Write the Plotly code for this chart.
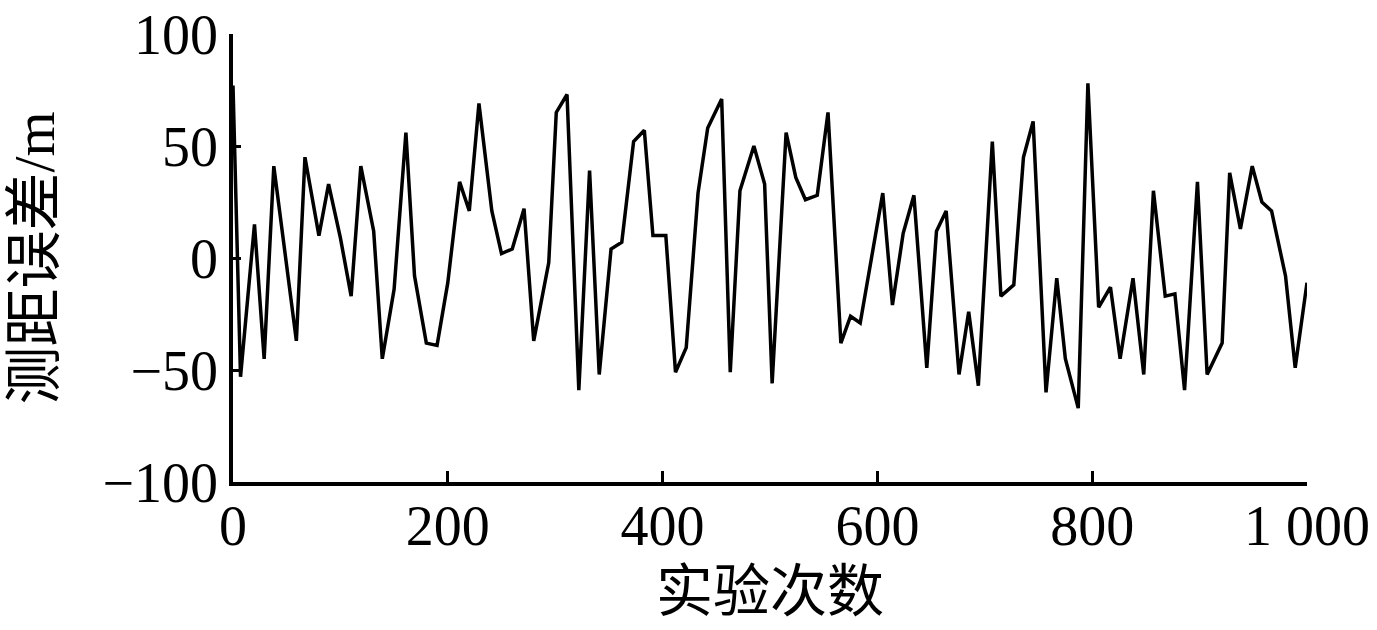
import plotly.graph_objects as go

# trial index (x) and ranging error in metres (y)
trial = [0, 7, 20, 29, 38, 59, 67, 80, 89, 100,
         110, 119, 131, 139, 150, 161, 169, 180, 190, 200,
         211, 220, 229, 241, 250, 260, 271, 280, 294, 301,
         311, 322, 332, 341, 352, 362, 373, 383, 391, 403,
         412, 422, 433, 442, 455, 463, 472, 485, 495, 502,
         515, 524, 533, 544, 554, 566, 575, 584, 605, 614,
         624, 634, 646, 655, 664, 676, 685, 694, 707, 715,
         727, 736, 745, 757, 767, 775, 787, 796, 806, 817,
         826, 838, 848, 857, 868, 877, 886, 898, 907, 921,
         928, 938, 949, 958, 967, 980, 989, 1000]
error_m = [77, -53, 15, -45, 41, -37, 45, 10, 33, 9,
           -17, 41, 12, -45, -14, 56, -8, -38, -39, -11,
           34, 21, 69, 21, 2, 4, 22, -37, -2, 65,
           73, -59, 39, -52, 4, 7, 52, 57, 10, 10,
           -51, -40, 29, 58, 71, -51, 30, 50, 33, -56,
           56, 36, 26, 28, 65, -38, -26, -29, 29, -21,
           11, 28, -49, 12, 21, -52, -24, -57, 52, -17,
           -12, 45, 61, -60, -9, -45, -67, 78, -22, -13,
           -45, -9, -52, 30, -17, -16, -59, 34, -52, -38,
           38, 13, 41, 25, 21, -8, -49, -11]

x_ticks = [0, 200, 400, 600, 800, 1000]
x_tick_text = ["0", "200", "400", "600", "800", "1 000"]
y_ticks = [-100, -50, 0, 50, 100]

FONT = "Liberation Serif, Noto Sans CJK SC"

fig = go.Figure()
fig.add_trace(go.Scatter(
    x=trial, y=error_m, mode="lines",
    line=dict(color="black", width=3.5),
    showlegend=False
))

fig.update_layout(
    width=1377, height=630,
    paper_bgcolor="white", plot_bgcolor="white",
    margin=dict(l=233, r=70, t=34, b=148),
    font=dict(family=FONT, size=56, color="black"),
)
fig.update_xaxes(
    range=[0, 1000], tickvals=x_ticks, ticktext=x_tick_text,
    showline=True, linecolor="black", linewidth=3.5,
    ticks="inside", ticklen=11, tickwidth=2.5, tickcolor="black",
    ticklabelstandoff=-8,
    showgrid=False, zeroline=False, automargin=False,
    title=dict(text="实验次数", font=dict(size=57), standoff=16),
)
fig.update_yaxes(
    range=[-100, 100], tickvals=y_ticks,
    showline=True, linecolor="black", linewidth=3.5,
    ticks="inside", ticklen=8, tickwidth=2.5, tickcolor="black",
    showgrid=False, zeroline=False, automargin=False,
    title=dict(text="测距误差/m", font=dict(size=58), standoff=30),
)

# drop the default 8px body margin so the figure fills the window exactly
fig.write_html("out.html", config={"displayModeBar": False},
               post_script="document.body.style.margin='0';")
